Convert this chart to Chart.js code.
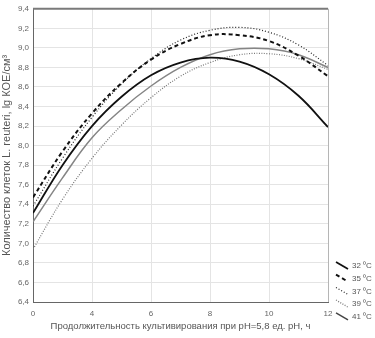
<!DOCTYPE html>
<html>
<head>
<meta charset="utf-8">
<script src="https://cdn.jsdelivr.net/npm/chart.js@4"></script>
<style>
  html, body { margin: 0; padding: 0; background: #fff; }
  #wrap { width: 375px; height: 338px; }
</style>
</head>
<body>
<div id="wrap"><canvas id="c" width="375" height="338"></canvas></div>
<script>
// Axis positions (the reference labels its equally spaced ticks 0,4,6,8,10,12)
const timePoints = [2, 3, 4, 5, 6, 7, 8, 9, 10, 11, 12];
const xTickValues = [2, 4, 6, 8, 10, 12];
const xTickLabels = ['0', '4', '6', '8', '10', '12'];

const seriesLabels = ['32 \u2070C', '35 \u2070C', '37 \u2070C', '39 \u2070C', '41 \u2070C'];
const t32 = [7.31, 7.80, 8.20, 8.50, 8.72, 8.85, 8.90, 8.86, 8.73, 8.51, 8.19];
const t35 = [7.47, 7.94, 8.33, 8.64, 8.88, 9.04, 9.13, 9.13, 9.07, 8.92, 8.71];
const t37 = [7.38, 7.87, 8.29, 8.63, 8.89, 9.08, 9.18, 9.21, 9.16, 9.03, 8.82];
const t39 = [6.94, 7.45, 7.87, 8.21, 8.49, 8.71, 8.85, 8.93, 8.94, 8.89, 8.78];
const t41 = [7.22, 7.67, 8.08, 8.37, 8.61, 8.80, 8.93, 8.99, 8.99, 8.93, 8.80];

const yMin = 6.4, yMax = 9.4, yStep = 0.2;

const styles = [
  { color: '#111111', width: 1.8, dash: [] },
  { color: '#111111', width: 2.0, dash: [4, 3] },
  { color: '#222222', width: 1.2, dash: [1, 2] },
  { color: '#777777', width: 1.2, dash: [1, 1.5] },
  { color: '#858585', width: 1.5, dash: [] }
];
const seriesData = [t32, t35, t37, t39, t41];

const datasets = seriesData.map((vals, i) => ({
  label: seriesLabels[i],
  data: vals.map((v, k) => ({ x: timePoints[k], y: v })),
  borderColor: styles[i].color,
  borderWidth: styles[i].width,
  borderDash: styles[i].dash,
  pointRadius: 0,
  fill: false,
  tension: 0.4
}));

const legendPlugin = {
  id: 'customLegend',
  afterDraw(chart) {
    const ctx = chart.ctx;
    const area = chart.chartArea;
    ctx.save();
    // frame
    ctx.strokeStyle = '#7a7a7a';
    ctx.lineWidth = 2;
    ctx.beginPath();
    ctx.moveTo(area.left, area.top);
    ctx.lineTo(area.right, area.top);
    ctx.stroke();
    ctx.strokeStyle = '#b5b5b5';
    ctx.lineWidth = 1;
    ctx.beginPath();
    ctx.moveTo(area.right + 0.5, area.top);
    ctx.lineTo(area.right + 0.5, area.bottom);
    ctx.stroke();
    // legend
    ctx.font = '8px "Liberation Sans", Arial, sans-serif';
    ctx.textBaseline = 'middle';
    ctx.textAlign = 'left';
    chart.data.datasets.forEach((ds, i) => {
      const y = 266 + i * 12.7;
      const s = styles[i];
      ctx.strokeStyle = i === 4 ? '#444' : s.color;
      ctx.lineWidth = s.width;
      ctx.setLineDash(s.dash);
      ctx.beginPath();
      ctx.moveTo(336, y - 4);
      ctx.lineTo(348, y + 3);
      ctx.stroke();
      ctx.setLineDash([]);
      ctx.fillStyle = '#555';
      ctx.fillText(ds.label, 352, y);
    });
    ctx.restore();
  }
};

new Chart(document.getElementById('c'), {
  type: 'line',
  data: { datasets },
  plugins: [legendPlugin],
  options: {
    responsive: false,
    animation: false,
    devicePixelRatio: 1,
    layout: { padding: { left: 0, right: 47, top: 8, bottom: 0 } },
    plugins: { legend: { display: false }, tooltip: { enabled: false } },
    scales: {
      x: {
        type: 'linear',
        min: 2, max: 12,
        afterBuildTicks(scale) { scale.ticks = xTickValues.map(v => ({ value: v })); },
        afterFit(scale) { scale.height = 36; },
        ticks: {
          callback: (v) => { const i = xTickValues.indexOf(v); return i >= 0 ? xTickLabels[i] : ''; },
          color: '#666', font: { size: 8, family: '"Liberation Sans", Arial, sans-serif' },
          padding: 7, maxRotation: 0
        },
        grid: { color: '#e4e4e4', drawTicks: false },
        border: { color: '#666', width: 1 },
        title: {
          display: true,
          text: 'Продолжительность культивирования при pH=5,8 ед. pH, ч',
          color: '#555', font: { size: 9.5, family: '"Liberation Sans", Arial, sans-serif' },
          padding: { top: 2, bottom: 6 }
        }
      },
      y: {
        type: 'linear',
        min: yMin, max: yMax,
        afterFit(scale) { scale.width = 33; },
        ticks: {
          stepSize: yStep,
          callback: (v) => v.toFixed(1).replace('.', ','),
          color: '#666', font: { size: 8, family: '"Liberation Sans", Arial, sans-serif' },
          padding: 4
        },
        grid: { color: '#e4e4e4', drawTicks: false },
        border: { color: '#666', width: 1 },
        title: {
          display: true,
          text: 'Количество клеток L. reuteri, lg КОЕ/см³',
          color: '#555', font: { size: 11, family: '"Liberation Sans", Arial, sans-serif' },
          padding: { top: 0, bottom: 2 }
        }
      }
    }
  }
});
</script>
</body>
</html>
